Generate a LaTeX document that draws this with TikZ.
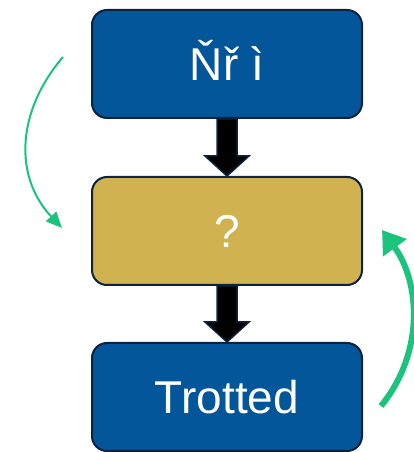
\documentclass[tikz,border=0pt]{standalone}
\usepackage{fontspec}
\setmainfont{Liberation Sans}
\usetikzlibrary{calc,arrows.meta}
\definecolor{boxblue}{RGB}{2,86,153}
\definecolor{boxgold}{RGB}{209,178,80}
\definecolor{edgenavy}{RGB}{12,34,64}
\definecolor{flowgreen}{RGB}{26,196,125}
\tikzset{
  stage/.style={draw=edgenavy, line width=2pt, rounded corners=15pt,
    minimum width=270pt, minimum height=108pt, inner sep=0pt,
    text height=34pt, text depth=0pt,
    text=white, font=\fontsize{46}{50}\selectfont},
  bluestage/.style={stage, fill=boxblue},
  goldstage/.style={stage, fill=boxgold},
  blockarrow/.style={fill=black, draw=edgenavy, line width=1.5pt, line join=miter},
  thinloop/.style={draw=flowgreen, line width=2pt, -{Triangle[length=16pt,width=14pt]}},
  thickloop/.style={draw=flowgreen, line width=6pt, -{Triangle[length=22pt,width=28pt]}}
}
\begin{document}
\begin{tikzpicture}[x=1pt, y=1pt]
\useasboundingbox (0,0) rectangle (413,452);
\node[bluestage] (top) at (227pt,388pt) {Ňř ì};
\node[goldstage] (mid) at (227pt,221pt) {?};
\node[bluestage] (bot) at (227pt,55pt) {Trotted};

% block arrows between the stages
\path[blockarrow]
  ($(top.south)+(-10pt,0pt)$) -- ($(mid.north)+(-10pt,20pt)$) -- ($(mid.north)+(-22pt,20pt)$)
  -- (mid.north) -- ($(mid.north)+(22pt,20pt)$) -- ($(mid.north)+(10pt,20pt)$)
  -- ($(top.south)+(10pt,0pt)$) -- cycle;
\path[blockarrow]
  ($(mid.south)+(-10pt,0pt)$) -- ($(bot.north)+(-10pt,20pt)$) -- ($(bot.north)+(-22pt,20pt)$)
  -- (bot.north) -- ($(bot.north)+(22pt,20pt)$) -- ($(bot.north)+(10pt,20pt)$)
  -- ($(mid.south)+(10pt,0pt)$) -- cycle;

% curved feedback arrows
\coordinate (lstart) at (63pt,395pt);
\coordinate (lend) at (62pt,224pt);
\draw[thinloop] (lstart) .. controls (16pt,340pt) and (14pt,275pt) .. (lend);
\coordinate (rstart) at (381pt,46pt);
\coordinate (rend) at (382pt,222pt);
\draw[thickloop] (rstart) .. controls (425pt,100pt) and (420pt,170pt) .. (rend);
\end{tikzpicture}
\end{document}
